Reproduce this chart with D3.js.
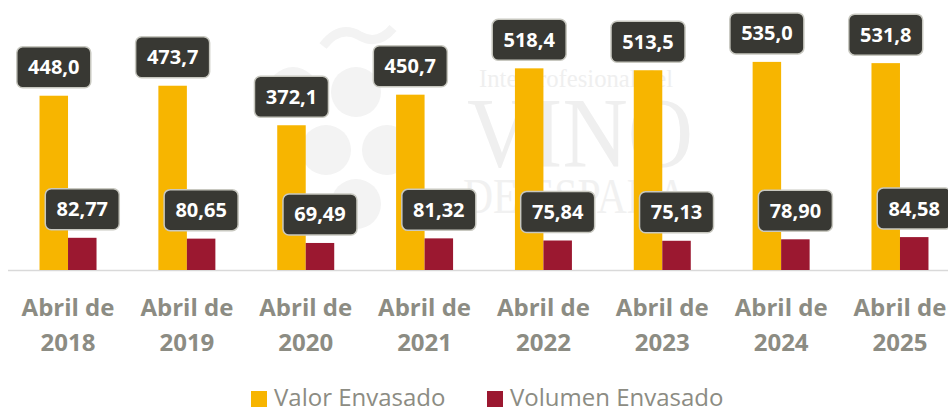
<!DOCTYPE html>
<html>
<head>
<meta charset="utf-8">
<script src="https://cdn.jsdelivr.net/npm/d3@7"></script>
<style>
  html, body { margin: 0; padding: 0; background: #ffffff; }
  svg { display: block; font-family: "Open Sans", "DejaVu Sans", sans-serif; }
</style>
</head>
<body>
<div id="chart"></div>
<script>
// categories and series
var years = ['2018', '2019', '2020', '2021', '2022', '2023', '2024', '2025'];
var valorEnvasado = [448.0, 473.7, 372.1, 450.7, 518.4, 513.5, 535.0, 531.8];
var volumenEnvasado = [82.77, 80.65, 69.49, 81.32, 75.84, 75.13, 78.90, 84.58];
var seriesNames = ['Valor Envasado', 'Volumen Envasado'];
var seriesColors = ['#f7b500', '#9b1830'];

var width = 948, height = 409;
var baseline = 270;

var svg = d3.select('#chart').append('svg')
  .attr('width', width)
  .attr('height', height);

// faint watermark of the logo behind the bars
var wm = svg.append('g').attr('class', 'watermark');
var grapes = [[293, 92], [356, 92], [326, 150], [387, 150], [356, 204]];
wm.selectAll('circle').data(grapes).enter().append('circle')
  .attr('cx', function(d) { return d[0]; })
  .attr('cy', function(d) { return d[1]; })
  .attr('r', 25)
  .attr('fill', '#f3f3f3');
wm.append('path')
  .attr('d', 'M323,46 Q340,24 360,36 Q378,46 393,28')
  .attr('fill', 'none')
  .attr('stroke', '#f3f3f3')
  .attr('stroke-width', 9);
wm.append('text')
  .attr('x', 479).attr('y', 87)
  .attr('font-family', '"Liberation Serif", "DejaVu Serif", serif')
  .attr('font-size', 25)
  .attr('textLength', 194)
  .attr('lengthAdjust', 'spacingAndGlyphs')
  .attr('fill', '#efefef')
  .text('Interprofesional del');
wm.append('text')
  .attr('x', 467).attr('y', 166)
  .attr('font-family', '"Liberation Serif", "DejaVu Serif", serif')
  .attr('font-size', 100)
  .attr('textLength', 226)
  .attr('lengthAdjust', 'spacingAndGlyphs')
  .attr('fill', '#efefef')
  .text('VINO');
wm.append('text')
  .attr('x', 463).attr('y', 213)
  .attr('font-family', '"Liberation Serif", "DejaVu Serif", serif')
  .attr('font-size', 50)
  .attr('textLength', 224)
  .attr('lengthAdjust', 'spacingAndGlyphs')
  .attr('fill', '#f1f1f1')
  .text('DE ESPAÑA');

// scales
var x0 = d3.scalePoint()
  .domain(years)
  .range([8.6, 959.4])
  .padding(0.5);

var x1 = d3.scaleBand()
  .domain(seriesNames)
  .range([-28.5, 28.5]);

var y = d3.scaleLinear()
  .domain([0, 600])
  .range([baseline, baseline - 600 * 0.389]);

// axis line
svg.append('line')
  .attr('x1', 8).attr('x2', width)
  .attr('y1', baseline + 0.5).attr('y2', baseline + 0.5)
  .attr('stroke', '#d9d9d9')
  .attr('stroke-width', 1.5);

var rows = years.map(function(yr, i) {
  return { year: yr, values: [valorEnvasado[i], volumenEnvasado[i]] };
});

var groups = svg.selectAll('g.group').data(rows).enter().append('g')
  .attr('class', 'group')
  .attr('transform', function(d) { return 'translate(' + x0(d.year) + ',0)'; });

var bars = groups.selectAll('g.bar')
  .data(function(d) {
    return d.values.map(function(v, j) { return { name: seriesNames[j], value: v, idx: j }; });
  })
  .enter().append('g')
  .attr('class', 'bar');

bars.append('rect')
  .attr('x', function(d) { return x1(d.name); })
  .attr('y', function(d) { return y(d.value); })
  .attr('width', x1.bandwidth())
  .attr('height', function(d) { return baseline - y(d.value); })
  .attr('fill', function(d) { return seriesColors[d.idx]; });

// value labels in dark rounded boxes
var fmt = function(d) {
  var digits = d.idx === 0 ? 1 : 2;
  return d.value.toFixed(digits).replace('.', ',');
};
var boxW = 74, boxH = 41, gap = 8;

bars.append('rect')
  .attr('x', function(d) { return x1(d.name) + x1.bandwidth() / 2 - boxW / 2; })
  .attr('y', function(d) { return y(d.value) - gap - boxH; })
  .attr('width', boxW)
  .attr('height', boxH)
  .attr('rx', 6)
  .attr('fill', '#383833')
  .attr('stroke', '#c8c8c0')
  .attr('stroke-width', 1.5);

bars.append('text')
  .attr('x', function(d) { return x1(d.name) + x1.bandwidth() / 2; })
  .attr('y', function(d) { return y(d.value) - gap - boxH / 2 + 7; })
  .attr('text-anchor', 'middle')
  .attr('font-size', 20)
  .attr('font-weight', 700)
  .attr('fill', '#ffffff')
  .text(fmt);

// category labels, two lines
var cat = groups.append('text')
  .attr('text-anchor', 'middle')
  .attr('font-size', 24)
  .attr('font-weight', 700)
  .attr('fill', '#8c8c83');
cat.append('tspan').attr('x', 0).attr('y', 316).text('Abril de');
cat.append('tspan').attr('x', 0).attr('y', 350.7).text(function(d) { return d.year; });

// legend
var legendX = [251, 487];
var legend = svg.selectAll('g.legend').data(seriesNames).enter().append('g')
  .attr('class', 'legend')
  .attr('transform', function(d, i) { return 'translate(' + legendX[i] + ',0)'; });

legend.append('rect')
  .attr('x', 0).attr('y', 391)
  .attr('width', 16).attr('height', 16)
  .attr('fill', function(d, i) { return seriesColors[i]; });

legend.append('text')
  .attr('x', 23).attr('y', 406)
  .attr('font-size', 24)
  .attr('fill', '#8c8c83')
  .text(function(d) { return d; });
</script>
</body>
</html>
